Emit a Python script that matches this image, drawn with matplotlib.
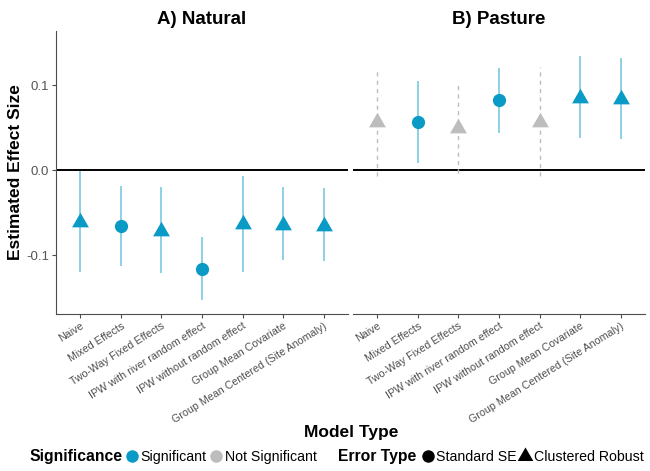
import numpy as np
import matplotlib.pyplot as plt
from matplotlib.lines import Line2D

plt.rcParams['font.family'] = ['Liberation Sans', 'DejaVu Sans']

models = ['Naive', 'Mixed Effects', 'Two-Way Fixed Effects',
          'IPW with river random effect', 'IPW without random effect',
          'Group Mean Covariate', 'Group Mean Centered (Site Anomaly)']
error_type = ['Clustered Robust', 'Standard SE', 'Clustered Robust', 'Standard SE',
              'Clustered Robust', 'Clustered Robust', 'Clustered Robust']

natural_est = [-0.061, -0.065, -0.071, -0.116, -0.063, -0.064, -0.065]
natural_lo = [-0.119, -0.113, -0.121, -0.153, -0.119, -0.106, -0.107]
natural_hi = [-0.001, -0.018, -0.020, -0.078, -0.007, -0.020, -0.021]
natural_sig = [True, True, True, True, True, True, True]

pasture_est = [0.057, 0.057, 0.050, 0.0825, 0.057, 0.085, 0.084]
pasture_lo = [-0.007, 0.009, -0.003, 0.044, -0.007, 0.038, 0.037]
pasture_hi = [0.117, 0.105, 0.104, 0.120, 0.122, 0.134, 0.132]
pasture_sig = [False, True, False, True, False, True, True]

SIG = '#0a9ac6'
NOTSIG = '#bdbdbd'
GREY = '#4d4d4d'
# triangle with its centroid on the data point
TRI = [(0, 1), (-0.866, -0.5), (0.866, -0.5)]


def draw_panel(ax, est, lo, hi, sig, title):
    x = np.arange(len(models))
    for i in x:
        if sig[i]:
            ax.vlines(i, lo[i], hi[i], color=SIG, alpha=0.5, lw=1.3, zorder=2)
        else:
            ax.vlines(i, lo[i], hi[i], color=NOTSIG, lw=1.0, linestyles=(0, (3, 3)), zorder=2)
        col = SIG if sig[i] else NOTSIG
        if error_type[i] == 'Standard SE':
            ax.plot(i, est[i], marker='o', ms=9.5, color=col, mec='none', zorder=3)
        else:
            ax.plot(i, est[i], marker=TRI, ms=14, color=col, mec='none', zorder=3)
    ax.axhline(0, color='black', lw=1.4, zorder=1)
    ax.set_xlim(-0.6, 6.6)
    ax.set_ylim(-0.169, 0.164)
    ax.set_xticks(x)
    ax.set_xticklabels(models, rotation=32, ha='right', rotation_mode='anchor',
                       fontsize=7.7, color=GREY)
    ax.set_title(title, fontsize=13.5, fontweight='bold', pad=5)
    for s in ['top', 'right']:
        ax.spines[s].set_visible(False)
    ax.spines['bottom'].set_color(GREY)
    ax.spines['left'].set_color(GREY)
    ax.tick_params(axis='x', length=3, color=GREY, pad=2)
    ax.tick_params(axis='y', length=3, color=GREY, labelsize=9.5, labelcolor='#555555', pad=2)


fig = plt.figure(figsize=(6.5, 4.71), dpi=100)
ax1 = fig.add_axes([56 / 650, 1 - 314 / 471, 292 / 650, 283 / 471])
ax2 = fig.add_axes([353 / 650, 1 - 314 / 471, 292 / 650, 283 / 471])

draw_panel(ax1, natural_est, natural_lo, natural_hi, natural_sig, 'A) Natural')
draw_panel(ax2, pasture_est, pasture_lo, pasture_hi, pasture_sig, 'B) Pasture')

ax1.set_yticks([-0.1, 0.0, 0.1])
ax1.set_yticklabels(['-0.1', '0.0', '0.1'])
ax1.set_ylabel('Estimated Effect Size', fontsize=12.5, fontweight='bold', labelpad=2)
ax2.spines['left'].set_visible(False)
ax2.set_yticks([])

fig.text(0.54, 1 - 433 / 471, 'Model Type', ha='center', va='center',
         fontsize=12.5, fontweight='bold')

# legends along the bottom
leg_y = 1 - 457 / 471
fig.text(30 / 650, leg_y, 'Significance', ha='left', va='center',
         fontsize=11.3, fontweight='bold')
h_sig = [Line2D([], [], ls='none', marker='o', ms=9, color=SIG, mec='none'),
         Line2D([], [], ls='none', marker='o', ms=9, color=NOTSIG, mec='none')]
fig.legend(h_sig, ['Significant', 'Not Significant'], ncol=2, loc='center left',
           bbox_to_anchor=(126 / 650, leg_y), frameon=False, fontsize=10.2,
           handlelength=0.8, handletextpad=0.2, columnspacing=0.3, borderpad=0,
           borderaxespad=0)

fig.text(338 / 650, leg_y, 'Error Type', ha='left', va='center',
         fontsize=11.3, fontweight='bold')
h_err = [Line2D([], [], ls='none', marker='o', ms=9, color='black', mec='none'),
         Line2D([], [], ls='none', marker=TRI, ms=13, color='black', mec='none')]
fig.legend(h_err, ['Standard SE', 'Clustered Robust'], ncol=2, loc='center left',
           bbox_to_anchor=(422 / 650, leg_y), frameon=False, fontsize=10.2,
           handlelength=0.8, handletextpad=0.2, columnspacing=0.2, borderpad=0,
           borderaxespad=0)

fig.savefig('out.png', dpi=100)
